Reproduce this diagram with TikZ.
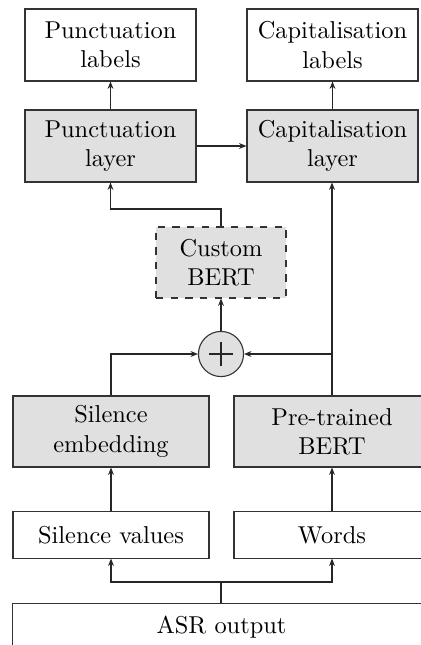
\documentclass[tikz,border=0pt]{standalone}
\usetikzlibrary{arrows.meta,calc}
\begin{document}
\begin{tikzpicture}[x=0.4098pt,y=-0.4098pt,
  box/.style={draw=black!80, line width=0.45pt, align=center, inner sep=0pt, font=\normalsize},
  topbox/.style={box, minimum width=70.1pt, minimum height=29.5pt},
  midbox/.style={box, minimum width=80.3pt, minimum height=29.1pt},
  lowbox/.style={box, minimum width=80.3pt, minimum height=18.9pt},
  shaded/.style={fill=black!12},
  conn/.style={draw=black!85, line width=0.45pt},
  arr/.style={conn, -{Stealth[length=3pt,width=2.4pt]}}]
\useasboundingbox (0,0) rectangle (420,645);
\node[topbox] (plabels) at (110.5,45) {Punctuation\\labels};
\node[topbox] (clabels) at (332.5,45) {Capitalisation\\labels};
\node[topbox,shaded] (player) at (110.5,146) {Punctuation\\layer};
\node[topbox,shaded] (clayer) at (332.5,146) {Capitalisation\\layer};
\node[box,shaded,dashed,minimum width=53.3pt,minimum height=29.1pt] (custom) at (221,262.5) {Custom\\BERT};
\node[draw=black!80, line width=0.45pt, circle, fill=black!12, minimum size=18.5pt, inner sep=0pt] (plus) at (221,354) {};
\draw[conn] ($(plus.center)+(-12,0)$) -- ($(plus.center)+(12,0)$);
\draw[conn] ($(plus.center)+(0,-12)$) -- ($(plus.center)+(0,12)$);
\node[midbox,shaded] (silemb) at (111,431.5) {Silence\\embedding};
\node[midbox,shaded] (pretrained) at (332,431.5) {Pre-trained\\BERT};
\node[lowbox] (silval) at (111,535) {Silence values};
\node[lowbox] (words) at (332,535) {Words};
\node[box, minimum width=171pt, minimum height=18.9pt] (asr) at (221.5,627) {ASR output};
\coordinate (k1) at (221,209);
\coordinate (k2) at (332,354);
\coordinate (k3) at (221,582);
\draw[arr] (player.north) -- (plabels.south);
\draw[arr] (clayer.north) -- (clabels.south);
\draw[arr] (player.east) -- (clayer.west);
\draw[arr] (custom.north) -- (k1) -| (player.south);
\draw[arr] (plus.north) -- (custom.south);
\draw[arr] (silemb.north) |- (plus.west);
\draw[arr] (pretrained.north) -- (clayer.south -| pretrained.north);
\draw[arr] (k2) -- (plus.east);
\draw[arr] (silval.north) -- (silemb.south);
\draw[arr] (words.north) -- (pretrained.south);
\draw[conn] (asr.north -| k3) -- (k3);
\draw[arr] (k3) -| (silval.south);
\draw[arr] (k3) -| (words.south);
\end{tikzpicture}
\end{document}
